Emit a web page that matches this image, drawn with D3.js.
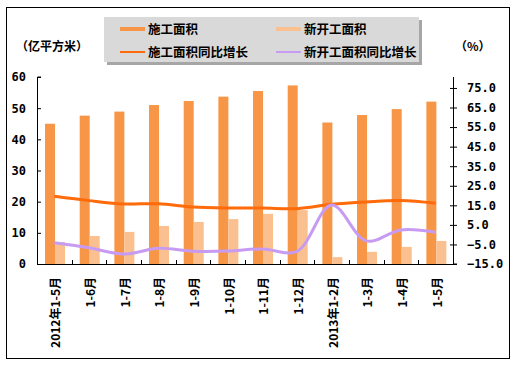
<!DOCTYPE html>
<html><head><meta charset="utf-8">
<script src="https://cdn.jsdelivr.net/npm/d3@7/dist/d3.min.js"></script>
<style>body{margin:0;background:#fff}svg{display:block}</style>
</head><body>
<script>
const categories = ["2012年1-5月","1-6月","1-7月","1-8月","1-9月","1-10月","1-11月","1-12月","2013年1-2月","1-3月","1-4月","1-5月"];
const construction = [45.0, 47.6, 48.9, 51.0, 52.3, 53.7, 55.5, 57.3, 45.4, 47.8, 49.7, 52.1];
const newStarts = [7.0, 9.0, 10.3, 12.2, 13.5, 14.4, 16.1, 17.3, 2.2, 3.9, 5.5, 7.4];
const constructionGrowth = [19.6, 17.4, 15.7, 15.8, 14.1, 13.6, 13.6, 13.3, 15.5, 16.7, 17.4, 16.0];
const newStartsGrowth = [-4.1, -6.7, -9.9, -7.0, -8.5, -8.4, -7.3, -8.5, 15.2, -3.2, 2.4, 1.2];
const leftTicks = [0, 10, 20, 30, 40, 50, 60];
const rightTicks = [-15, -5, 5, 15, 25, 35, 45, 55, 65, 75];
const seriesNames = ["施工面积", "新开工面积", "施工面积同比增长", "新开工面积同比增长"];

const W = 529, H = 366;
const svg = d3.select("body").append("svg").attr("width", W).attr("height", H);
const font = "'DejaVu Sans Mono', monospace";
const cjk = "'Noto Sans CJK SC', sans-serif";

svg.append("rect").attr("x", 6.5).attr("y", 7.5).attr("width", 503).attr("height", 351)
  .attr("fill", "#fff").attr("stroke", "#000").attr("stroke-width", 1);

const L = 37, R = 453, T = 77, B = 264;
const x = d3.scaleBand().domain(categories).range([L, R]).paddingInner(0).paddingOuter(0);
const y = d3.scaleLinear().domain([0, 60]).range([B, T]);
const y2 = d3.scaleLinear().domain([-15, 80.6]).range([B, T]);
const bw = 10;

// bars
svg.append("g").selectAll("rect").data(construction).join("rect")
  .attr("x", (d, i) => x(categories[i]) + x.bandwidth() / 2 - bw + 0.7)
  .attr("y", d => y(d)).attr("width", bw).attr("height", d => B - y(d))
  .attr("fill", "#F79646");
svg.append("g").selectAll("rect").data(newStarts).join("rect")
  .attr("x", (d, i) => x(categories[i]) + x.bandwidth() / 2 + 0.7)
  .attr("y", d => y(d)).attr("width", bw).attr("height", d => B - y(d))
  .attr("fill", "#FAC08F");

// lines
const line = d3.line().x((d, i) => x(categories[i]) + x.bandwidth() / 2).y(d => y2(d))
  .curve(d3.curveCatmullRom.alpha(0.5));
svg.append("path").attr("d", line(constructionGrowth)).attr("fill", "none")
  .attr("stroke", "#FF6A0A").attr("stroke-width", 3);
svg.append("path").attr("d", line(newStartsGrowth)).attr("fill", "none")
  .attr("stroke", "#C89BF2").attr("stroke-width", 3);

// left axis
const gl = svg.append("g").attr("transform", `translate(${L},0)`)
  .call(d3.axisLeft(y).tickValues(leftTicks).tickSize(-4).tickPadding(11).tickFormat(d3.format("d")));
gl.select(".domain").attr("d", `M4,${T}H0.5V${B}`).attr("stroke", "#000");
gl.selectAll("text").attr("font-family", font).attr("font-weight", "bold").attr("font-size", 12).attr("fill", "#000");

// right axis
const gr = svg.append("g").attr("transform", `translate(${R},0)`)
  .call(d3.axisRight(y2).tickValues(rightTicks).tickSize(4).tickPadding(10).tickFormat(d3.format(".1f")));
gr.select(".domain").attr("d", `M0.5,${T}V${B}H4`).attr("stroke", "#000");
gr.selectAll(".tick line").attr("x1", -3).attr("x2", 4);
gr.selectAll("text").attr("font-family", font).attr("font-weight", "bold").attr("font-size", 12).attr("fill", "#000");

// bottom axis
svg.append("line").attr("x1", L).attr("x2", R).attr("y1", B + 0.5).attr("y2", B + 0.5).attr("stroke", "#000");
svg.append("g").selectAll("line").data(categories.slice(1)).join("line")
  .attr("x1", d => Math.round(x(d)) + 0.5).attr("x2", d => Math.round(x(d)) + 0.5)
  .attr("y1", B).attr("y2", B - 4).attr("stroke", "#000");
svg.append("g").selectAll("text").data(categories).join("text")
  .attr("transform", d => `translate(${x(d) + x.bandwidth() / 2 + 6},277) rotate(-90)`)
  .attr("text-anchor", "end").attr("font-family", cjk).attr("font-weight", "bold")
  .attr("font-size", 12).attr("fill", "#000").text(d => d);

// unit labels
svg.append("text").attr("x", 16).attr("y", 51).attr("font-family", cjk).attr("font-weight", "bold")
  .attr("font-size", 12).text("（亿平方米）");
svg.append("text").attr("x", 455).attr("y", 51).attr("font-family", cjk).attr("font-weight", "bold")
  .attr("font-size", 12).text("（%）");

// legend
const lg = svg.append("g");
lg.append("rect").attr("x", 107).attr("y", 20).attr("width", 315).attr("height", 45).attr("fill", "#A6A6A6");
lg.append("rect").attr("x", 104).attr("y", 17).attr("width", 315).attr("height", 45).attr("fill", "#D9D9D9");
const items = [
  {name: seriesNames[0], color: "#F79646", w: 4, lx: 120, ly: 29},
  {name: seriesNames[1], color: "#FAC08F", w: 4, lx: 276, ly: 29},
  {name: seriesNames[2], color: "#FF6A0A", w: 2, lx: 120, ly: 52},
  {name: seriesNames[3], color: "#C89BF2", w: 2, lx: 276, ly: 52}
];
items.forEach(it => {
  lg.append("line").attr("x1", it.lx).attr("x2", it.lx + 25).attr("y1", it.ly).attr("y2", it.ly)
    .attr("stroke", it.color).attr("stroke-width", it.w);
  lg.append("text").attr("x", it.lx + 28).attr("y", it.ly + 4.5).attr("font-family", cjk)
    .attr("font-weight", "bold").attr("font-size", 12.5).attr("fill", "#000").text(it.name);
});
</script>
</body></html>
